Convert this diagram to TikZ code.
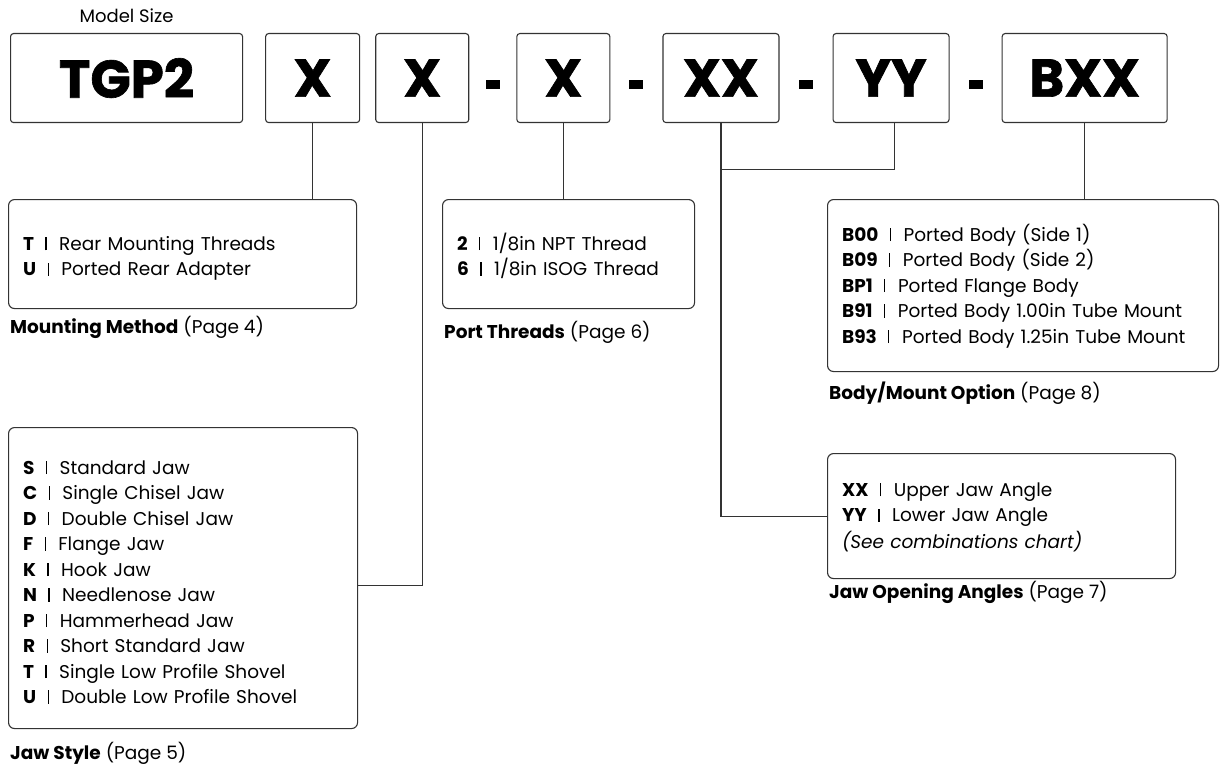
\documentclass[tikz,border=0pt]{standalone}
\usepackage{fontspec}
\setmainfont{Poppins}
\newfontfamily\bigfont{Poppins}[BoldFeatures={FakeBold=1.2}]
\usetikzlibrary{positioning,calc}
\tikzset{
    codebox/.style={
           rectangle,
           rounded corners=3pt,
           draw=black!80, line width=1.1pt,
           minimum height=89pt,
           inner sep=0pt,
           text centered,
           font=\bigfont\bfseries\fontsize{53}{53}\selectfont,
           },
    optbox/.style={
           rectangle,
           rounded corners=6pt,
           draw=black!80, line width=1.1pt,
           anchor=north west,
           inner xsep=14.5pt, inner ysep=0pt,
           align=left,
           font=\fontsize{18.5}{25.5}\selectfont,
           },
    dashbar/.style={fill=black, minimum width=14pt, minimum height=9pt, inner sep=0pt},
    caption/.style={anchor=base west, inner sep=0pt, font=\fontsize{18.5}{20}\selectfont},
    link/.style={draw=black!80, line width=1.1pt},
}
\newcommand{\sepbar}{\hspace{0.62em}\rule{1.2pt}{0.72em}\hspace{0.68em}}

\begin{document}
\begin{tikzpicture}[x=1pt,y=-1pt]
 \useasboundingbox (0,0) rectangle (1220,765);

 % Code boxes in the top row
 \node[codebox, minimum width=232pt, anchor=north west] (tgp) at (10,33) {TGP2};
 \node[codebox, minimum width=94pt, right=22pt of tgp] (mountcode) {X};
 \node[codebox, minimum width=93pt, right=15pt of mountcode] (jawcode) {X};
 \node[codebox, minimum width=93pt, right=47pt of jawcode] (portcode) {X};
 \node[codebox, minimum width=116pt, right=52pt of portcode] (uppercode) {XX};
 \node[codebox, minimum width=116pt, right=53pt of uppercode] (lowercode) {YY};
 \node[codebox, minimum width=165pt, right=52pt of lowercode] (bodycode) {BXX};

 \node[font=\fontsize{18}{18}\selectfont, anchor=base] (sizelabel)
   at ([yshift=10pt]tgp.north) {Model Size};

 % dashes between the codes
 \node[dashbar] (dash1) at ($(jawcode.east)!0.5!(portcode.west)+(0,6)$) {};
 \node[dashbar] (dash2) at ($(portcode.east)!0.5!(uppercode.west)+(0,6)$) {};
 \node[dashbar] (dash3) at ($(uppercode.east)!0.5!(lowercode.west)+(0,6)$) {};
 \node[dashbar] (dash4) at ($(lowercode.east)!0.5!(bodycode.west)+(0,6)$) {};

 % Option boxes (the invisible rules push the text a bit down)
 \node[optbox, text width=319pt, minimum height=109pt] (mountopt) at (8,199)
 {\rule{0pt}{23pt}\textbf{T}\sepbar Rear Mounting Threads\\
  \textbf{U}\sepbar Ported Rear Adapter};

 \node[optbox, text width=223pt, minimum height=109pt] (portopt) at (442,199)
 {\rule{0pt}{21pt}\textbf{2}\sepbar 1/8in NPT Thread\\
  \textbf{6}\sepbar 1/8in ISOG Thread};

 \node[optbox, text width=362pt, minimum height=172pt] (bodyopt) at (827,199)
 {\rule{0pt}{18pt}\textbf{B00}\sepbar Ported Body (Side 1)\\
  \textbf{B09}\sepbar Ported Body (Side 2)\\
  \textbf{BP1}\sepbar Ported Flange Body\\
  \textbf{B91}\sepbar Ported Body 1.00in Tube Mount\\
  \textbf{B93}\sepbar Ported Body 1.25in Tube Mount};

 \node[optbox, text width=319pt, minimum height=125pt] (angleopt) at (827,453)
 {\rule{0pt}{16pt}\textbf{XX}\sepbar Upper Jaw Angle\\
  \textbf{YY}\sepbar Lower Jaw Angle\\[1pt]
  \textit{(See combinations chart)}};

 \node[optbox, text width=320pt, minimum height=301pt] (jawopt) at (8,427)
 {\rule{0pt}{22pt}\textbf{S}\sepbar Standard Jaw\\
  \textbf{C}\sepbar Single Chisel Jaw\\
  \textbf{D}\sepbar Double Chisel Jaw\\
  \textbf{F}\sepbar Flange Jaw\\
  \textbf{K}\sepbar Hook Jaw\\
  \textbf{N}\sepbar Needlenose Jaw\\
  \textbf{P}\sepbar Hammerhead Jaw\\
  \textbf{R}\sepbar Short Standard Jaw\\
  \textbf{T}\sepbar Single Low Profile Shovel\\
  \textbf{U}\sepbar Double Low Profile Shovel};

 % captions below the boxes
 \node[caption] (mountcap) at ([xshift=2pt,yshift=-24pt]mountopt.south west)
   {\textbf{Mounting Method} (Page 4)};
 \node[caption] (portcap) at ([xshift=2pt,yshift=-29pt]portopt.south west)
   {\textbf{Port Threads} (Page 6)};
 \node[caption] (bodycap) at ([xshift=2pt,yshift=-27pt]bodyopt.south west)
   {\textbf{Body/Mount Option} (Page 8)};
 \node[caption] (anglecap) at ([xshift=2pt,yshift=-19pt]angleopt.south west)
   {\textbf{Jaw Opening Angles} (Page 7)};
 \node[caption] (jawcap) at ([xshift=2pt,yshift=-30pt]jawopt.south west)
   {\textbf{Jaw Style} (Page 5)};

 % connectors from the codes to their options
 \draw[link] (mountcode.south) -- (mountcode.south |- mountopt.north);
 \draw[link] (jawcode.south) |- ([yshift=-7.5pt]jawopt.east);
 \draw[link] (portcode.south) -- (portcode.south |- portopt.north);
 \draw[link] (uppercode.south) |- (angleopt.west);
 \coordinate (lowerknee) at ([xshift=3pt,yshift=-46pt]lowercode.south);
 \draw[link] ([xshift=3pt]lowercode.south) -- (lowerknee) -- (lowerknee -| uppercode.south);
 \draw[link] (bodycode.south) -- (bodycode.south |- bodyopt.north);
\end{tikzpicture}
\end{document}
